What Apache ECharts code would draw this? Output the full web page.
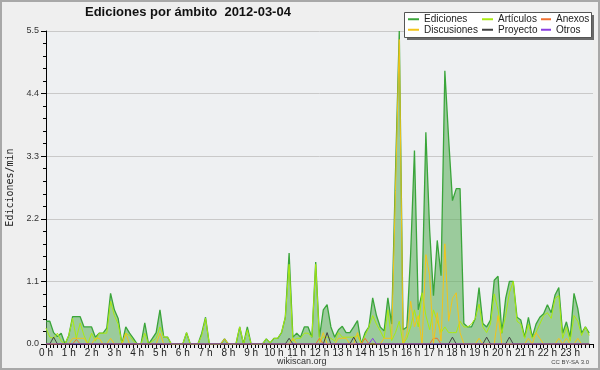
<!DOCTYPE html>
<html>
<head>
<meta charset="utf-8">
<script src="https://cdn.jsdelivr.net/npm/echarts@6/dist/echarts.min.js"></script>
<style>html,body{margin:0;padding:0;background:#efefef;}#c{width:600px;height:370px;}</style>
</head>
<body>
<div id="c"></div>
<script>
// 10-minute steps, 144 per day (hour = index / 6)
var stepsPerHour = 6;
var hourTicks = ['0 h','1 h','2 h','3 h','4 h','5 h','6 h','7 h','8 h','9 h','10 h','11 h','12 h','13 h','14 h','15 h','16 h','17 h','18 h','19 h','20 h','21 h','22 h','23 h'];
var yTicks = [0.0, 1.1, 2.2, 3.3, 4.4, 5.5];

var ediciones = [
0.40,0.40,0.20,0.13,0.19,0.00,0.15,0.48,0.48,0.48,0.30,0.30,
0.30,0.12,0.19,0.19,0.28,0.89,0.60,0.45,0.00,0.30,0.19,0.10,
0.00,0.00,0.37,0.00,0.10,0.20,0.60,0.12,0.12,0.00,0.00,0.00,
0.00,0.20,0.00,0.00,0.00,0.19,0.47,0.00,0.00,0.00,0.00,0.09,
0.00,0.00,0.00,0.30,0.00,0.30,0.00,0.00,0.00,0.00,0.09,0.02,
0.10,0.10,0.20,0.47,1.60,0.12,0.19,0.12,0.30,0.30,0.12,1.44,
0.12,0.60,0.69,0.30,0.12,0.25,0.31,0.20,0.20,0.30,0.41,0.00,
0.20,0.30,0.81,0.50,0.30,0.23,0.81,0.35,3.00,5.50,0.25,0.30,
1.60,3.40,0.60,0.90,3.72,2.00,0.85,1.82,1.20,4.80,3.60,2.52,
2.73,2.73,0.36,0.30,0.30,0.45,0.99,0.36,0.30,0.42,1.12,1.19,
0.19,0.80,1.10,1.10,0.47,0.42,0.12,0.47,0.12,0.35,0.47,0.53,
0.69,0.55,0.86,0.99,0.19,0.39,0.12,0.89,0.62,0.19,0.30,0.19
];
var articulos = [
0.28,0.12,0.10,0.19,0.05,0.00,0.15,0.45,0.10,0.37,0.15,0.00,
0.19,0.05,0.19,0.19,0.19,0.75,0.50,0.35,0.00,0.19,0.15,0.05,
0.00,0.00,0.19,0.00,0.05,0.10,0.30,0.12,0.12,0.00,0.00,0.00,
0.00,0.20,0.00,0.00,0.00,0.15,0.45,0.00,0.00,0.00,0.00,0.00,
0.00,0.00,0.00,0.30,0.00,0.25,0.00,0.00,0.00,0.00,0.09,0.02,
0.10,0.10,0.20,0.47,1.40,0.05,0.10,0.10,0.19,0.19,0.12,1.40,
0.05,0.12,0.12,0.10,0.05,0.20,0.12,0.12,0.12,0.12,0.15,0.00,
0.15,0.30,0.50,0.35,0.23,0.10,0.60,0.06,0.20,0.40,0.00,0.10,
0.30,0.60,0.30,0.90,0.50,0.25,0.60,0.40,0.20,0.30,0.20,0.20,
0.20,0.40,0.30,0.30,0.35,0.45,0.70,0.30,0.20,0.35,0.88,0.60,
0.19,0.50,0.90,1.10,0.40,0.35,0.10,0.35,0.10,0.20,0.35,0.50,
0.55,0.45,0.80,0.85,0.10,0.30,0.05,0.50,0.40,0.15,0.30,0.15
];
var discusiones = [
0,0,0,0,0,0,0,0.10,0.10,0.10,0.10,0,
0,0.10,0.10,0,0,0.10,0,0,0,0.19,0,0,
0,0,0,0,0,0,0.19,0,0,0,0,0,
0,0,0,0,0,0,0,0,0,0,0,0.09,
0,0,0,0,0,0,0,0,0,0,0,0,
0,0,0,0,0,0.10,0,0,0,0,0,0,
0,0.20,0,0,0,0.10,0.10,0.10,0,0,0.20,0,
0,0,0,0,0,0.10,0.10,0.10,2.70,5.35,0,0.18,
0.75,0.30,0.50,0,1.57,1.20,0,0.55,0.05,1.76,0.40,0.80,
0.90,0.20,0,0,0,0,0.10,0,0,0,0,0.50,
0,0,0,0,0,0,0,0.10,0,0.20,0.10,0,
0,0,0,0.10,0,0.10,0,0,0.10,0,0,0
];
var anexos = [
0,0,0,0,0,0,0,0,0.08,0,0,0,
0,0,0,0,0,0,0,0,0,0,0,0,
0,0,0,0,0,0,0,0,0,0,0,0,
0,0,0,0,0,0,0,0,0,0,0,0,
0,0,0,0,0,0,0,0,0,0,0,0,
0,0,0,0,0,0,0,0,0,0,0,0,
0.10,0,0,0,0,0,0,0,0,0,0,0,
0.10,0,0,0,0,0,0,0,0,0,0,0,
0,0,0,0,0,0,0.10,0.10,0,0,0,0,
0,0,0,0,0,0,0,0,0,0,0,0,
0,0,0,0,0,0,0,0,0,0,0,0,
0,0,0,0,0,0,0,0,0,0,0,0
];
var proyecto = [
0,0,0.12,0,0,0,0,0,0,0,0,0,
0,0,0,0,0,0,0,0,0,0,0,0,
0,0,0,0,0,0,0,0,0,0,0,0,
0,0,0,0,0,0,0,0,0,0,0,0,
0,0,0,0,0,0,0,0,0,0,0,0,
0,0,0,0,0.10,0,0,0,0,0,0,0,
0,0,0.20,0,0,0,0,0,0,0.12,0,0,
0,0,0,0,0,0,0,0,0,0,0,0,
0,0,0,0,0,0,0,0,0,0,0,0.12,
0,0,0,0,0,0,0,0,0.12,0,0,0,
0,0,0.12,0,0,0,0,0,0,0,0,0,
0,0,0,0,0,0,0,0,0,0,0,0
];
var otros = [
0,0,0,0,0,0,0,0,0,0,0,0,
0,0,0,0,0,0,0,0,0,0,0,0,
0,0,0,0,0,0,0,0,0,0,0,0,
0,0,0,0,0,0,0,0,0,0,0,0,
0,0,0,0,0,0,0,0,0,0,0,0,
0,0,0,0,0,0,0,0,0,0,0,0,
0,0,0,0,0,0,0,0,0,0,0,0,
0,0,0.10,0,0,0,0,0,0,0,0,0,
0,0,0,0,0,0,0,0,0,0,0,0,
0,0,0,0,0,0,0,0,0,0,0,0,
0,0,0,0,0,0,0,0,0,0,0,0,
0,0,0,0,0,0,0,0,0,0,0,0
];

function pts(arr){ return arr.map(function(v,i){ return [i/stepsPerHour, v]; }); }

var chart = echarts.init(document.getElementById('c'), null, {renderer:'canvas'});
var FONT = 'Liberation Sans';

function lineSeries(name, arr, color, width, z){
  return {name:name, type:'line', data:pts(arr), showSymbol:false, symbol:'none',
    lineStyle:{color:color, width:width}, itemStyle:{color:color}, z:z, animation:false};
}

var edSeries = lineSeries('Ediciones', ediciones, '#3aa53a', 1.3, 3);
edSeries.areaStyle = {color:'rgba(100,178,98,0.6)', opacity:1};

var legendBase = {orient:'vertical', itemGap:0, itemWidth:11, itemHeight:2, icon:'rect', padding:0, top:14, z:20,
  textStyle:{fontFamily:FONT, fontSize:10, color:'#222', lineHeight:10.5}, selectedMode:false};

var option = {
  backgroundColor:'#efefef',
  animation:false,
  title:{text:'Ediciones por ámbito  2012-03-04', left:85, top:6, padding:0,
    textStyle:{fontFamily:FONT, fontSize:13, fontWeight:'bold', color:'#111'}},
  legend:[
    Object.assign({}, legendBase, {data:['Ediciones','Discusiones'], left:408}),
    Object.assign({}, legendBase, {data:['Artículos','Proyecto'], left:482}),
    Object.assign({}, legendBase, {data:['Anexos','Otros'], left:541, itemWidth:10})
  ],
  grid:{left:46, right:7, top:31, bottom:26, show:true, backgroundColor:'#eef0f2', borderWidth:0,
    containLabel:false, outerBoundsMode:'none'},
  xAxis:{type:'value', min:0, max:24, interval:1,
    axisLine:{show:true, onZero:false, lineStyle:{color:'#000', width:1}},
    axisTick:{show:true, length:4, lineStyle:{color:'#000'}},
    minorTick:{show:true, splitNumber:6, length:4, lineStyle:{color:'#000'}},
    splitLine:{show:false},
    axisLabel:{margin:4, fontFamily:FONT, fontSize:10, color:'#222',
      formatter:function(v){ return hourTicks[Math.round(v)] || ''; }}
  },
  yAxis:{type:'value', min:yTicks[0], max:yTicks[yTicks.length-1], interval:1.1,
    name:'Ediciones/min', nameLocation:'middle', nameGap:30,
    nameTextStyle:{fontFamily:'DejaVu Sans Mono', fontSize:10, color:'#222'},
    axisLine:{show:true, lineStyle:{color:'#000', width:1}},
    axisTick:{show:true, length:5, lineStyle:{color:'#000'}},
    minorTick:{show:true, splitNumber:5, length:3, lineStyle:{color:'#000'}},
    splitLine:{show:true, lineStyle:{color:'#c9c9c9', width:1}},
    axisLabel:{margin:7, fontFamily:FONT, fontSize:9, color:'#333',
      formatter:function(v){ return v.toFixed(1); }}
  },
  graphic:[
    {type:'rect', z:15, shape:{x:407, y:15, width:187, height:25}, style:{fill:'#6a6a6a'}},
    {type:'rect', z:16, shape:{x:404.5, y:12.5, width:187, height:25}, style:{fill:'#ffffff', stroke:'#555', lineWidth:1}},
    {type:'text', z:16, left:277, top:357, style:{text:'wikiscan.org', font:'9px "Liberation Sans"', fill:'#333'}},
    {type:'text', z:16, right:11, top:359, style:{text:'CC BY-SA 3.0', font:'6px "Liberation Sans"', fill:'#444'}},
    {type:'rect', z:30, silent:true, shape:{x:1, y:1, width:598, height:368}, style:{fill:'none', stroke:'#a8a8a8', lineWidth:2}}
  ],
  series:[
    edSeries,
    lineSeries('Artículos', articulos, '#aaea10', 1, 4),
    lineSeries('Anexos', anexos, '#f07030', 1, 5),
    lineSeries('Discusiones', discusiones, '#f2c41a', 1, 5),
    lineSeries('Proyecto', proyecto, '#404040', 1, 5),
    lineSeries('Otros', otros, '#8a3ee0', 1, 5)
  ]
};
chart.setOption(option);
</script>
</body>
</html>
